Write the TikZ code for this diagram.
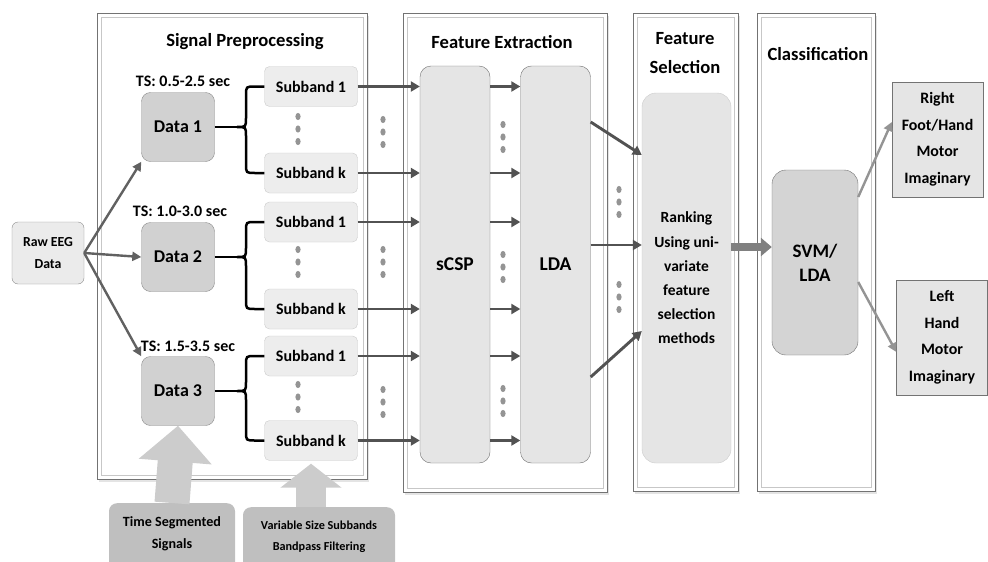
\documentclass[tikz,border=0pt]{standalone}
\usepackage{fontspec}
\setmainfont{Carlito}
\usetikzlibrary{arrows.meta,shadows}

\begin{document}
\begin{tikzpicture}[x=1pt,y=-1pt,
  every node/.style={font=\bfseries, align=center, inner sep=0pt},
  panel/.style={draw=black!55, line width=0.8pt, fill=white, drop shadow={shadow xshift=2pt, shadow yshift=-2.5pt, fill=black!15, opacity=0.7}},
  inpanel/.style={draw=black!22, line width=0.8pt},
  title/.style={font=\bfseries\fontsize{18.6}{29}\selectfont},
  rawbox/.style={draw=black!45, fill=black!8, rounded corners=6pt, minimum width=72pt, minimum height=62pt, font=\bfseries\fontsize{13.8}{22}\selectfont},
  databox/.style={draw=black!45, fill=black!18, rounded corners=9pt, minimum width=73pt, minimum height=69pt, font=\bfseries\fontsize{18}{22}\selectfont},
  subbox/.style={draw=black!20, fill=black!7, rounded corners=5pt, minimum width=93pt, minimum height=40pt, font=\bfseries\fontsize{16}{18}\selectfont},
  tsnote/.style={font=\bfseries\fontsize{16}{18}\selectfont},
  tallbox/.style={draw=black!55, fill=black!10, rounded corners=11pt, minimum width=70pt, minimum height=397pt, font=\bfseries\fontsize{19.5}{22}\selectfont},
  selbox/.style={draw=black!20, fill=black!10, rounded corners=14pt, minimum width=89pt, minimum height=370pt, font=\bfseries\fontsize{15.5}{24.2}\selectfont},
  svmbox/.style={draw=black!55, fill=black!17, rounded corners=14pt, minimum width=86pt, minimum height=185pt, font=\bfseries\fontsize{19}{24}\selectfont},
  outbox/.style={draw=black!55, fill=black!10, minimum width=91pt, minimum height=115pt, font=\bfseries\fontsize{15.9}{26.5}\selectfont},
  notebox/.style={fill=black!25, rounded corners=8pt},
  flow/.style={draw=black!68, line width=2.9pt, -{Triangle[length=9pt,width=10pt]}},
  rawflow/.style={draw=black!62, line width=2.4pt, -{Triangle[length=9pt,width=9pt]}},
  outflow/.style={draw=black!42, line width=2.4pt, -{Triangle[length=9pt,width=9pt]}},
  brace/.style={draw=black, line width=2.5pt},
  bigarrow/.style={draw=black!20, line cap=butt}
]
\useasboundingbox (0,0) rectangle (988,562);

% panels
\node[panel, minimum width=270pt, minimum height=466pt] (pre) at (232,246) {};
\node[inpanel, minimum width=262pt, minimum height=458pt] at (pre) {};
\node[panel, minimum width=204pt, minimum height=479pt] (ext) at (505,252.5) {};
\node[inpanel, minimum width=196pt, minimum height=471pt] at (ext) {};
\node[panel, minimum width=105pt, minimum height=478pt] (sel) at (685.5,252) {};
\node[inpanel, minimum width=97pt, minimum height=470pt] at (sel) {};
\node[panel, minimum width=118pt, minimum height=478pt] (cls) at (816,252) {};
\node[inpanel, minimum width=110pt, minimum height=470pt] at (cls) {};

\node[title] (pretitle) at (245,42) {Signal Preprocessing};
\node[title] (exttitle) at (502,42) {Feature Extraction};
\node[title] (seltitle) at (685,53) {Feature\\Selection};
\node[title] (clstitle) at (818,54) {Classification};

% input and time segments
\node[rawbox] (raw) at (48,253) {Raw EEG\\Data};
\node[databox] (data1) at (178,127) {Data 1};
\node[databox] (data2) at (178,257) {Data 2};
\node[databox] (data3) at (178,391) {Data 3};
\node[tsnote] (ts1) at (183,81) {TS: 0.5-2.5 sec};
\node[tsnote] (ts2) at (180,211) {TS: 1.0-3.0 sec};
\node[tsnote] (ts3) at (188,346) {TS: 1.5-3.5 sec};

% subbands
\node[subbox] (sbfirst1) at (311,86.5) {Subband 1};
\node[subbox] (sblast1) at (311,173) {Subband k};
\node[subbox] (sbfirst2) at (311,222) {Subband 1};
\node[subbox] (sblast2) at (311,309) {Subband k};
\node[subbox] (sbfirst3) at (311,356) {Subband 1};
\node[subbox] (sblast3) at (311,440.5) {Subband k};

% extraction, selection, classification
\node[tallbox] (scsp) at (455,264.5) {sCSP};
\node[tallbox] (lda) at (555.5,264.5) {LDA};
\node[selbox] (rank) at (686.5,278) {Ranking\\Using uni-\\variate\\feature\\selection\\methods};
\node[svmbox] (svm) at (815,262.5) {SVM/\\LDA};
\node[outbox] (right) at (937.5,139.5) {Right\\Foot/Hand\\Motor\\Imaginary};
\node[outbox] (left) at (942,337.5) {Left\\Hand\\Motor\\Imaginary};

% notes below
\node[notebox, minimum width=126pt, minimum height=80pt, anchor=north] (tseg) at (172,503) {};
\node[font=\bfseries\fontsize{14.1}{22}\selectfont] at (172,534) {Time Segmented\\Signals};
\node[notebox, minimum width=152pt, minimum height=80pt, anchor=north] (vsub) at (319,507) {};
\node[font=\bfseries\fontsize{12.2}{21}\selectfont] at (319,536.5) {Variable Size Subbands\\Bandpass Filtering};
\draw[bigarrow, line width=35pt, -{Triangle[length=36pt,width=71pt]}] (tseg.north) -- (data3.south);
\draw[bigarrow, line width=30pt, -{Triangle[length=24pt,width=60pt]}, shorten >=3pt] (vsub.north -| sblast3) -- (sblast3.south);

% raw data to segments
\draw[rawflow] (raw.east) -- (data1.south west);
\draw[rawflow] (raw.east) -- (data2.west);
\draw[rawflow] (raw.east) -- (data3.north west);

% braces
\foreach \g/\ya/\ym/\yk in {1/86.5/127/173, 2/222/257/309, 3/356/391/440.5} {
  \draw[brace] (sbfirst\g.west) -- (255,\ya) .. controls (246,\ya) .. (246,{\ya+9}) -- (246,{\ym-9}) .. controls (246,\ym) .. (237,\ym) .. controls (246,\ym) .. (246,{\ym+9}) -- (246,{\yk-9}) .. controls (246,\yk) .. (255,\yk) -- (sblast\g.west);
  \draw[brace] (data\g.east) -- (237,\ym);
  \draw[flow] (sbfirst\g.east) -- (scsp.west |- sbfirst\g);
  \draw[flow] (sblast\g.east) -- (scsp.west |- sblast\g);
  \draw[flow] (scsp.east |- sbfirst\g) -- (lda.west |- sbfirst\g);
  \draw[flow] (scsp.east |- sblast\g) -- (lda.west |- sblast\g);
}

% dots
\foreach \x/\y in {298/129, 383/132, 298/262, 383/262, 298/397, 383/402, 503/137, 503/267, 503/401, 619/202, 619/297}
  \foreach \d in {-12.5,0,12.5}
    \fill[black!42] (\x,{\y+\d}) ellipse [x radius=2.6, y radius=3.6];

% LDA to ranking
\coordinate (ldatop) at ([yshift=142.5pt]lda.east);
\coordinate (ldamid) at ([yshift=19.5pt]lda.east);
\coordinate (ldabot) at ([yshift=-112.5pt]lda.east);
\draw[flow] (ldatop) -- ([yshift=123pt]rank.west);
\draw[flow] (ldamid) -- (ldamid -| rank.west);
\draw[flow] (ldabot) -- ([yshift=-53pt]rank.west);

% ranking to classifier
\coordinate (rankout) at ([yshift=31pt]rank.east);
\draw[draw=black!50, line width=8pt, -{Triangle[length=11pt,width=18pt]}] (rankout) -- (rankout -| svm.west);

% classifier to classes
\draw[outflow] ([yshift=65.5pt]svm.east) -- ([yshift=17.5pt]right.west);
\draw[outflow] ([yshift=-19.5pt]svm.east) -- ([yshift=-14.5pt]left.west);
\end{tikzpicture}
\end{document}
